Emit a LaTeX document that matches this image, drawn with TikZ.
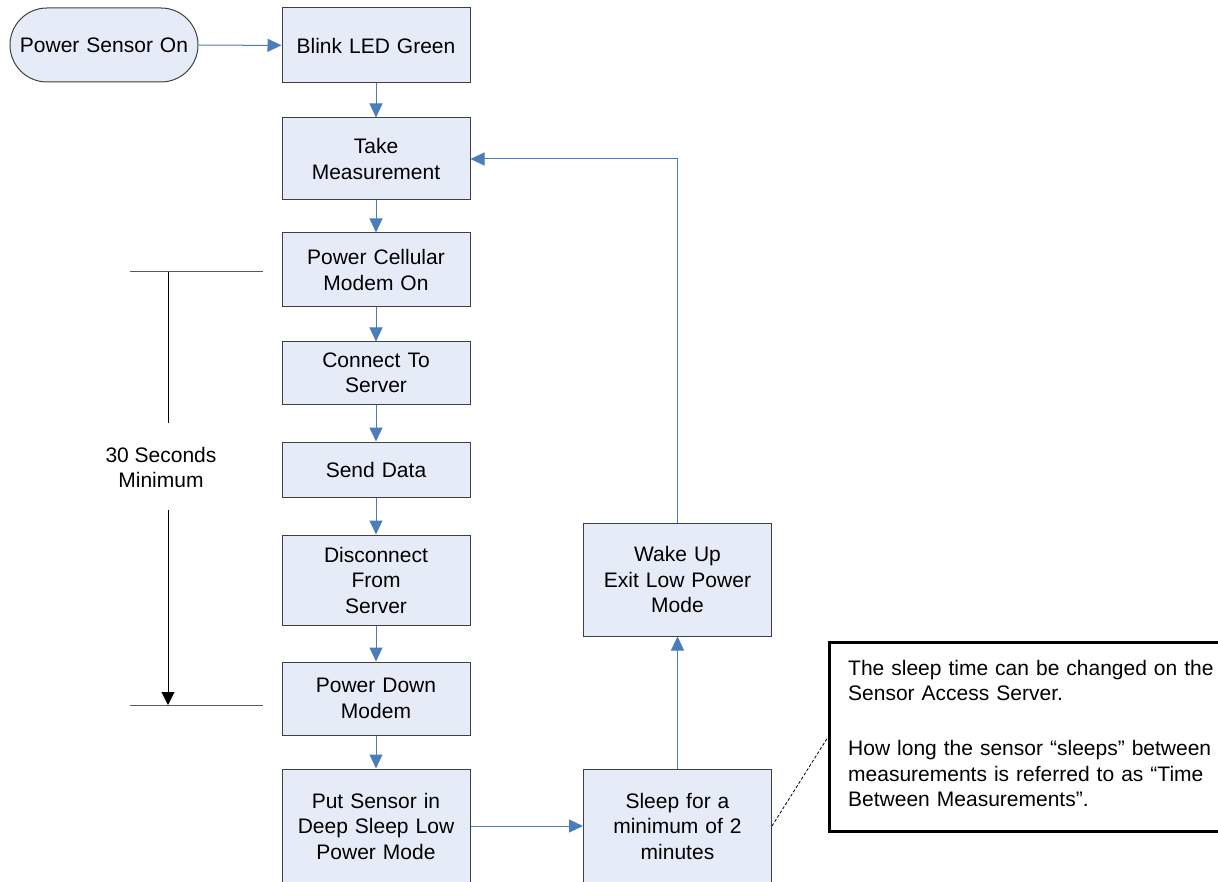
\documentclass[tikz,border=0pt]{standalone}
\usepackage{fontspec}
\setmainfont{Liberation Sans}
\usetikzlibrary{arrows.meta}
\definecolor{boxfill}{RGB}{230,236,247}
\definecolor{boxdraw}{RGB}{64,64,64}
\definecolor{arrowblue}{RGB}{74,126,187}
\definecolor{bracketgray}{RGB}{90,90,90}
\begin{document}
\begin{tikzpicture}[x=1pt,y=-1pt,
  every node/.style={font=\fontsize{21}{25.5}\selectfont},
  stepbox/.style={draw=boxdraw, fill=boxfill, line width=1pt, minimum width=188pt, align=center, inner sep=0pt, text width=184pt},
  flow/.style={draw=arrowblue, line width=1pt, -{Triangle[length=14pt,width=13pt]}},
  bracketline/.style={draw=bracketgray, line width=1pt},
  durline/.style={draw=black, line width=1pt},
]
\clip (0,0) rectangle (1218,882);
\fill[white] (0,0) rectangle (1218,882);

\node[stepbox, rounded corners=37pt, minimum height=74pt] (start) at (104,45) {Power Sensor On};
\node[stepbox, minimum height=75pt] (blink) at (376,45.5) {Blink LED Green};
\node[stepbox, minimum height=82pt] (take) at (376,159) {Take\\Measurement};
\node[stepbox, minimum height=74pt] (modem) at (376,270) {Power Cellular\\Modem On};
\node[stepbox, minimum height=62pt] (connect) at (376,373) {Connect To\\Server};
\node[stepbox, minimum height=55pt] (send) at (376,469.5) {Send Data};
\node[stepbox, minimum height=90pt] (disc) at (376,580) {Disconnect\\From\\Server};
\node[stepbox, minimum height=73pt] (down) at (376,698.5) {Power Down\\Modem};
\node[stepbox, minimum height=114pt] (put) at (376,826) {Put Sensor in\\Deep Sleep Low\\Power Mode};
\node[stepbox, minimum height=114pt] (sleep) at (677.5,826) {Sleep for a\\minimum of 2\\minutes};
\node[stepbox, minimum height=113pt] (wake) at (677.5,579.5) {Wake Up\\Exit Low Power\\Mode};

\draw[flow] (start) -- (blink);
\draw[flow] (blink) -- (take);
\draw[flow] (take) -- (modem);
\draw[flow] (modem) -- (connect);
\draw[flow] (connect) -- (send);
\draw[flow] (send) -- (disc);
\draw[flow] (disc) -- (down);
\draw[flow] (down) -- (put);
\draw[flow] (put) -- (sleep);
\draw[flow] (sleep) -- (wake);
\draw[flow] (wake.north) -- (wake.north |- take.east) -- (take.east);

% note
\node[draw=black, fill=white, line width=2.5pt, minimum width=396pt, minimum height=189pt, anchor=north west, inner sep=0pt] (note) at (828,641) {};
\node[anchor=north west, align=left, inner sep=0pt, text width=380pt] (notetext) at (848,660) {The sleep time can be changed on the\\Sensor Access Server.\\[29.5pt]How long the sensor “sleeps” between\\measurements is referred to as “Time\\Between Measurements”.};
\coordinate (callout) at (828,737);
\draw[dashed, line width=0.8pt, dash pattern=on 3pt off 2pt] (sleep.east) -- (callout);

% duration bracket
\coordinate (topL) at (130,272);
\coordinate (topR) at (263,272);
\coordinate (botL) at (130,705);
\coordinate (botR) at (263,705);
\draw[bracketline] (topL) -- (topR);
\draw[bracketline] (botL) -- (botR);
\node[align=center, inner sep=0pt] (dur) at (161,467.5) {30 Seconds\\Minimum};
\coordinate (durtop) at (168,272);
\coordinate (durmidA) at (168,423);
\coordinate (durmidB) at (168,510);
\coordinate (durbot) at (168,705);
\draw[durline] (durtop) -- (durmidA);
\draw[durline, -{Triangle[length=13pt,width=13pt]}] (durmidB) -- (durbot);
\end{tikzpicture}
\end{document}
